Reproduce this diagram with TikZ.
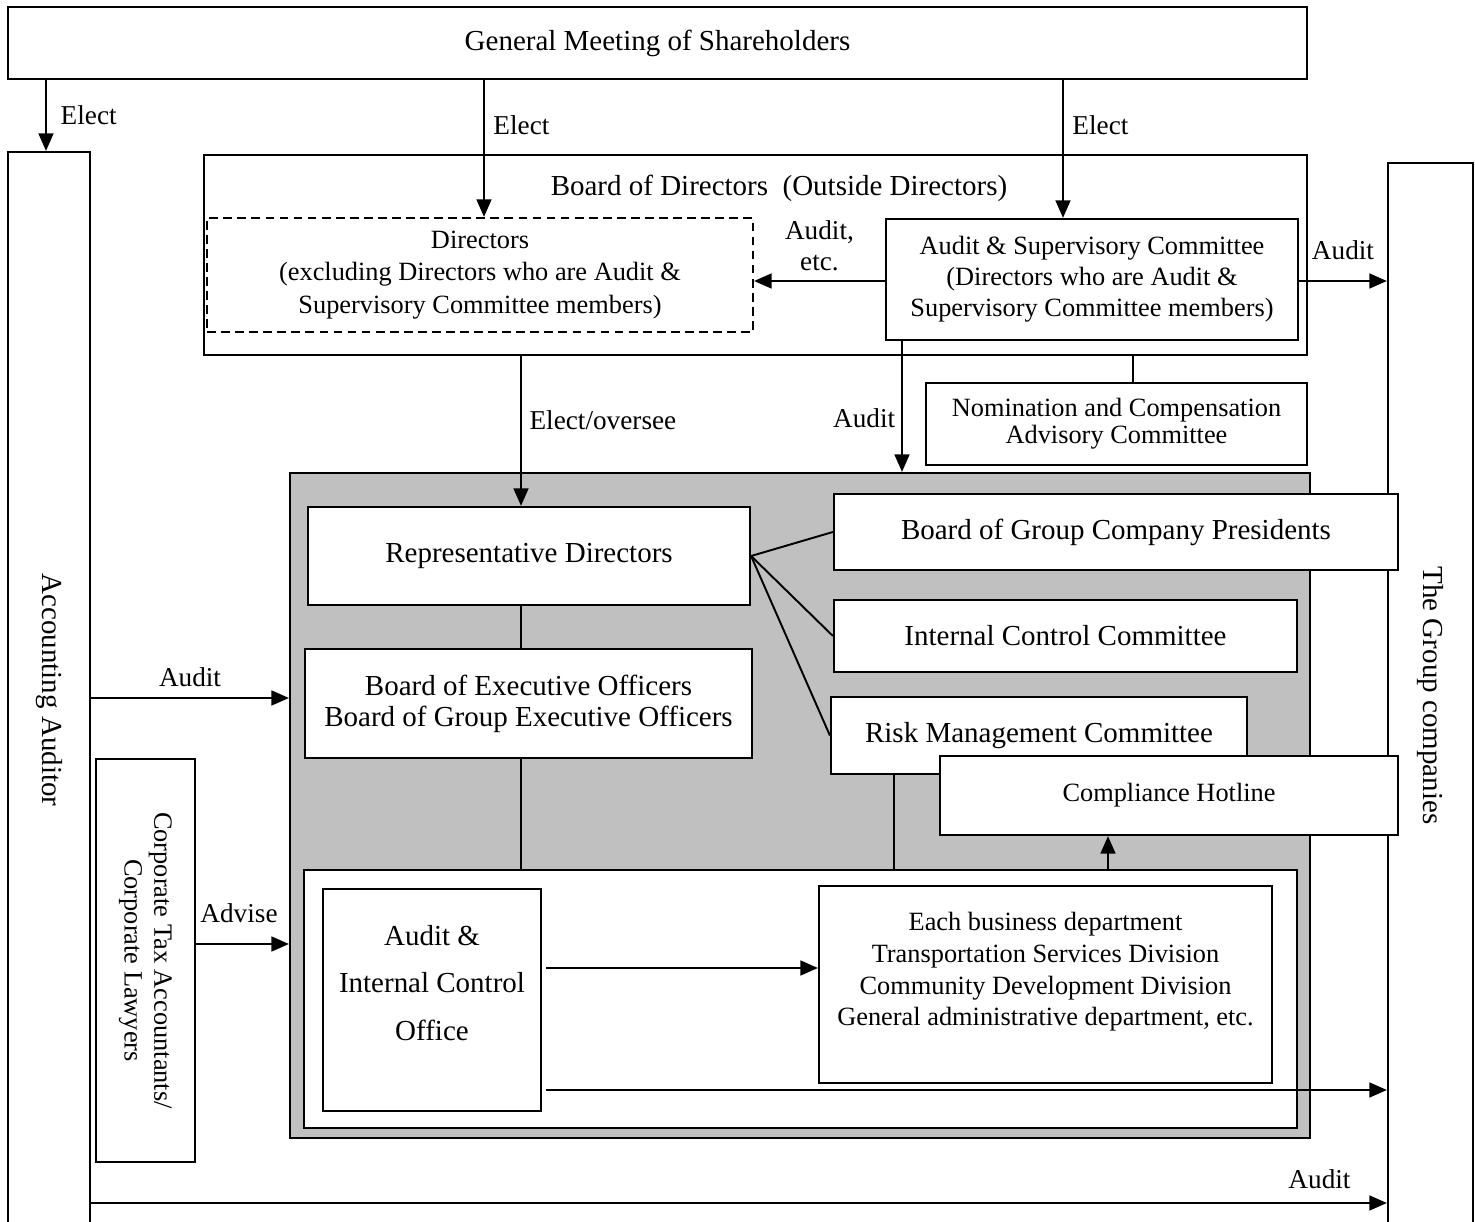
\documentclass[tikz,border=0pt]{standalone}
\usepackage{graphicx}
\usepackage{fontspec}
\setmainfont{Liberation Serif}
\usetikzlibrary{arrows.meta}

\definecolor{panelgray}{RGB}{192,192,192}

\begin{document}
\begin{tikzpicture}[
    x=0.02cm, y=-0.02cm,
    box/.style={draw, line width=1.3pt, fill=white, align=center, inner sep=0pt,
      font=\fontsize{15}{17.6}\selectfont},
    bigbox/.style={box, font=\fontsize{16.5}{17.6}\selectfont},
    sidebox/.style={draw, line width=1.3pt, fill=white, inner sep=0pt},
    arr/.style={-{Triangle[length=10pt,width=8.5pt]}, line width=1.1pt},
    link/.style={line width=1.1pt},
    lbl/.style={font=\fontsize{15.5}{17.5}\selectfont, align=center}
  ]
  \path[use as bounding box] (0,0) rectangle (1475,1222);
  \clip (0,0) rectangle (1475,1222);

  \node[bigbox, minimum width=25.98cm, minimum height=1.44cm] (gm) at (657.5,43) {General Meeting of Shareholders};
  \node[sidebox, minimum width=1.64cm, minimum height=21.52cm, font=\fontsize{16.5}{19}\selectfont] (auditor) at (49,690) {\rotatebox{-90}{Accounting Auditor}};
  \node[sidebox, minimum width=1.7cm, minimum height=21.3cm, font=\fontsize{16.5}{19}\selectfont] (grp) at (1430.5,695.5) {\rotatebox{-90}{The Group companies}};

  \node[box, minimum width=22.06cm, minimum height=4cm] (bod) at (755.5,255) {};
  \node[lbl, font=\fontsize{16.5}{19}\selectfont] (bodtitle) at (779,188) {Board of Directors~~(Outside Directors)};
  \node[box, dashed, dash pattern=on 5pt off 3pt, minimum width=10.92cm, minimum height=2.28cm, font=\fontsize{15}{18.6}\selectfont] (dirs) at (480,275)
    {Directors\\(excluding Directors who are Audit \&\\Supervisory Committee members)};
  \node[box, minimum width=8.24cm, minimum height=2.42cm] (asc) at (1092,279.5)
    {Audit \& Supervisory Committee\\(Directors who are Audit \&\\Supervisory Committee members)};
  \node[box, minimum width=7.62cm, minimum height=1.64cm, font=\fontsize{15}{15.3}\selectfont] (nom) at (1116.5,424)
    {Nomination and Compensation\\Advisory Committee};

  \node[draw, line width=1.3pt, fill=panelgray, minimum width=20.4cm, minimum height=13.3cm] (panel) at (800,805.5) {};
  \node[box, minimum width=19.86cm, minimum height=5.16cm] (inner) at (800.5,999) {};
  \node[bigbox, minimum width=8.84cm, minimum height=1.96cm] (rep) at (529,556) {Representative Directors};
  \node[bigbox, minimum width=8.94cm, minimum height=2.18cm] (beo) at (528.5,703.5)
    {Board of Executive Officers\\Board of Group Executive Officers};
  \node[bigbox, minimum width=11.28cm, minimum height=1.52cm] (gcp) at (1116,532) {Board of Group Company Presidents};
  \node[bigbox, minimum width=9.26cm, minimum height=1.44cm] (icc) at (1065.5,636) {Internal Control Committee};
  \node[bigbox, minimum width=8.32cm, minimum height=1.54cm] (rmc) at (1039,735.5) {Risk Management Committee};
  \node[box, minimum width=9.16cm, minimum height=1.58cm] (hot) at (1169,795.5) {Compliance Hotline};

  \node[box, minimum width=4.36cm, minimum height=4.44cm] (aico) at (432,1000) {};
  \node[lbl, font=\fontsize{16.5}{17.6}\selectfont] (aicotext) at (432,983) {Audit \&\\[9.4pt]Internal Control\\[9.4pt]Office};
  \node[box, minimum width=9.06cm, minimum height=3.94cm] (ebd) at (1045.5,984.5) {};
  \node[lbl, font=\fontsize{15}{18}\selectfont] (ebdtext) at (1045.5,972)
    {Each business department\\Transportation Services Division\\Community Development Division\\General administrative department, etc.};

  \node[sidebox, minimum width=1.98cm, minimum height=8.06cm, font=\fontsize{15}{17}\selectfont] (tax) at (145.5,960.5)
    {\rotatebox{-90}{\begin{tabular}{@{}c@{}}Corporate Tax Accountants/\\Corporate Lawyers\end{tabular}}};

  \draw[arr] (gm.south -| 46,0) -- (auditor.north -| 46,0) node[lbl, midway, right=4.5pt] {Elect};
  \draw[arr] (gm.south -| 484,0) -- (dirs.north -| 484,0) node[lbl, pos=.33, right=1.5pt] {Elect};
  \draw[arr] (gm.south -| 1063,0) -- (asc.north -| 1063,0) node[lbl, pos=.33, right=1.5pt] {Elect};
  \draw[arr] (asc.west |- 0,281) -- (dirs.east |- 0,281) node[lbl, midway, above=2pt] {Audit,\\etc.};
  \draw[arr] (asc.east |- 0,281) -- (grp.west |- 0,281) node[lbl, midway, above=8pt] {Audit};
  \draw[arr] (asc.south -| 902,0) -- (panel.north -| 902,0) node[lbl, pos=.59, left] {Audit};
  \draw[link] (bod.south -| 1133,0) -- (nom.north -| 1133,0);
  \draw[arr] (bod.south -| 521,0) -- (rep.north -| 521,0) node[lbl, pos=.43, right=1pt] {Elect/oversee};

  \draw[link] (rep.south -| 521,0) -- (beo.north -| 521,0);
  \draw[link] (beo.south -| 521,0) -- (inner.north -| 521,0);
  \draw[link] (rep.east) -- (gcp.west);
  \draw[link] (rep.east) -- (icc.west);
  \draw[link] (rep.east) -- (rmc.west);
  \draw[link] (rmc.south -| 894,0) -- (inner.north -| 894,0);
  \draw[arr] (inner.north -| 1108,0) -- (hot.south -| 1108,0);
  \draw[arr, shorten <=0.08cm] (aico.east |- 0,968) -- (ebd.west |- 0,968);
  \draw[arr, shorten <=0.08cm] (aico.east |- 0,1090) -- (grp.west |- 0,1090);

  \draw[arr] (auditor.east |- 0,698) -- (panel.west |- 0,698) node[lbl, midway, above=2.5pt] {Audit};
  \draw[arr] (tax.east |- 0,944) -- (panel.west |- 0,944) node[lbl, midway, above=8pt, xshift=-2pt] {Advise};
  \draw[arr] (auditor.east |- 0,1203) -- (grp.west |- 0,1203) node[lbl, pos=.948, above=4pt] {Audit};
\end{tikzpicture}
\end{document}
